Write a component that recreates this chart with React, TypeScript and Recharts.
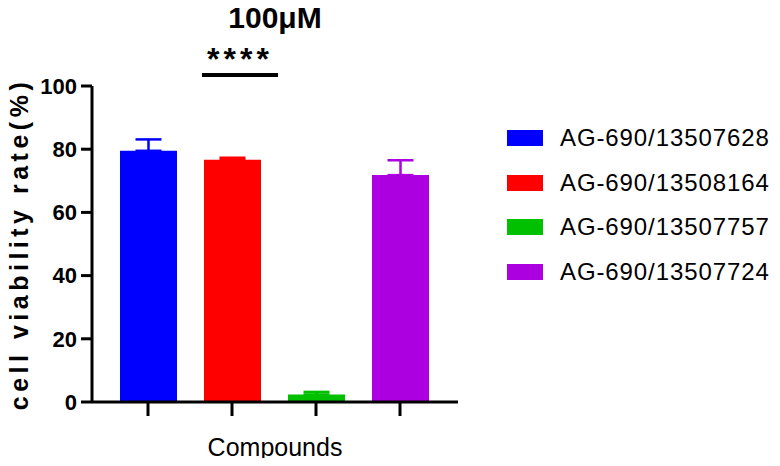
import React from 'react';
import { BarChart, Bar, XAxis, YAxis, ErrorBar } from 'recharts';

const compounds = ['AG-690/13507628', 'AG-690/13508164', 'AG-690/13507757', 'AG-690/13507724'];
const viability = [79.5, 76.7, 2.4, 71.8];
const upperError = [3.6, 0.6, 0.8, 4.7];
const colors = ['#0000ff', '#ff0000', '#00c000', '#ad00e0'];
const yTicks = [0, 20, 40, 60, 80, 100];

const seriesKey = (i: number) => `s${i}`;
const errKey = (i: number) => `e${i}`;

// one row per compound, only its own series filled, so each bar sits on its own tick
const rows = compounds.map((name, i) => ({
    name,
    [seriesKey(i)]: viability[i],
    [errKey(i)]: [0, upperError[i]],
}));

const font = 'Arial, "Liberation Sans", Helvetica, sans-serif';

const App: React.FC = () => {
    return (
        <div style={{ position: 'relative', width: 764, height: 450, fontFamily: font }}>
            <div
                style={{
                    position: 'absolute',
                    left: 267 - 100,
                    width: 200,
                    top: -8,
                    textAlign: 'center',
                    fontSize: 30,
                    fontWeight: 'bold',
                    lineHeight: '36px',
                }}
            >
                100μM
            </div>
            <div
                style={{
                    position: 'absolute',
                    left: 194,
                    width: 76,
                    top: 36,
                    textAlign: 'center',
                    fontSize: 32,
                    fontWeight: 'bold',
                    letterSpacing: 4,
                    lineHeight: '30px',
                }}
            >
                ****
            </div>
            <div style={{ position: 'absolute', left: 194, top: 65, width: 76, height: 4, background: '#000' }} />

            <div
                style={{
                    position: 'absolute',
                    left: 11,
                    top: 236,
                    width: 400,
                    lineHeight: '30px',
                    textAlign: 'center',
                    whiteSpace: 'nowrap',
                    fontSize: 25,
                    fontWeight: 'bold',
                    letterSpacing: 4.5,
                    transform: 'translate(-50%, -50%) rotate(-90deg)',
                }}
            >
                cell viability rate(%)
            </div>

            <BarChart
                width={764}
                height={450}
                data={rows}
                margin={{ top: 78, right: 314, left: 0, bottom: 0 }}
            >
                <XAxis
                    dataKey="name"
                    height={56}
                    padding={{ left: 14, right: 16 }}
                    axisLine={{ stroke: '#000', strokeWidth: 3 }}
                    tickLine={{ stroke: '#000', strokeWidth: 3 }}
                    tickSize={14}
                    tickFormatter={() => ''}
                />
                <YAxis
                    width={84}
                    domain={[0, 100]}
                    ticks={yTicks}
                    axisLine={{ stroke: '#000', strokeWidth: 3 }}
                    tickLine={{ stroke: '#000', strokeWidth: 3 }}
                    tickSize={11}
                    tickMargin={4}
                    tick={{ fill: '#000', fontSize: 22, fontWeight: 'bold', fontFamily: font }}
                />
                {compounds.map((c, i) => (
                    <Bar
                        key={c}
                        dataKey={seriesKey(i)}
                        stackId="one"
                        fill={colors[i]}
                        barSize={57}
                        isAnimationActive={false}
                    >
                        <ErrorBar dataKey={errKey(i)} width={13} stroke={colors[i]} strokeWidth={2.5} />
                    </Bar>
                ))}
            </BarChart>

            <div
                style={{
                    position: 'absolute',
                    left: 267 - 100,
                    width: 200,
                    top: 439 - 15,
                    textAlign: 'center',
                    fontSize: 25,
                    lineHeight: '30px',
                }}
            >
                Compounds
            </div>

            <div style={{ position: 'absolute', left: 499, top: 108, whiteSpace: 'nowrap' }}>
                {compounds.map((c, i) => (
                    <div key={c} style={{ display: 'flex', alignItems: 'center', height: 44.5 }}>
                        <div style={{ width: 36, height: 16, background: colors[i], marginRight: 17 }} />
                        <span style={{ fontSize: 24, letterSpacing: 0.9, color: '#000' }}>{c}</span>
                    </div>
                ))}
            </div>
        </div>
    );
};

export default App;
